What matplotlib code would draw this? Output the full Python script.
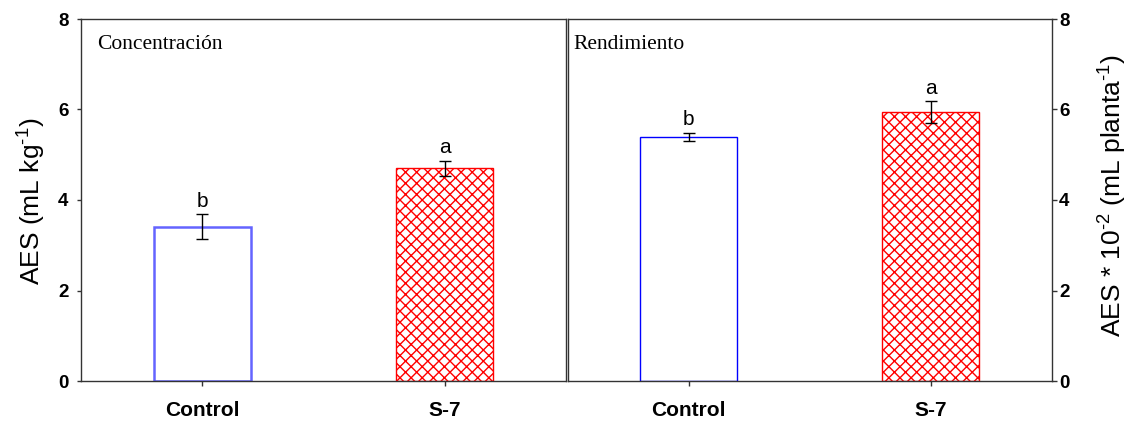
import matplotlib
matplotlib.use("Agg")
import matplotlib.pyplot as plt
import numpy as np

# Data: essential oil (AES) per treatment
categories = ["Control", "S-7"]
conc_values = [3.41, 4.70]      # mL kg-1
conc_errors = [0.27, 0.16]
conc_letters = ["b", "a"]
yield_values = [5.39, 5.94]     # mL planta-1 (x 10^-2)
yield_errors = [0.09, 0.24]
yield_letters = ["b", "a"]
yticks = [0, 2, 4, 6, 8]

plt.rcParams["font.family"] = ["Liberation Sans", "DejaVu Sans"]
plt.rcParams["mathtext.fontset"] = "custom"
plt.rcParams["mathtext.rm"] = "Liberation Sans"
plt.rcParams["mathtext.it"] = "Liberation Sans"
plt.rcParams["hatch.linewidth"] = 1.0

W, H = 1132, 423
fig = plt.figure(figsize=(W / 100, H / 100), dpi=100)

def frac_box(x0, x1, ytop, ybot):
    return [x0 / W, 1 - ybot / H, (x1 - x0) / W, (ybot - ytop) / H]

ax1 = fig.add_axes(frac_box(81, 566, 19, 381))
ax2 = fig.add_axes(frac_box(567.5, 1052, 19, 381))

x = np.arange(len(categories))
spine_col = "#333333"

def draw_panel(ax, values, errors, letters, ctrl_color, ctrl_lw, title, title_x):
    ax.bar(x[0], values[0], width=0.4, color="white", edgecolor=ctrl_color,
           linewidth=ctrl_lw, zorder=2)
    ax.bar(x[1], values[1], width=0.4, color="white", edgecolor="red",
           hatch="xxx", linewidth=1.0, zorder=2)
    ax.errorbar(x, values, yerr=errors, fmt="none", ecolor="black",
                elinewidth=1.0, capsize=4.3, capthick=1.0, zorder=3)
    for xi, v, e, lab in zip(x, values, errors, letters):
        ax.annotate(lab, (xi, v + e), xytext=(0, 5.5), textcoords="offset points",
                    ha="center", va="baseline", fontsize=15)
    ax.set_xlim(-0.5, 1.5)
    ax.set_ylim(0, 8)
    ax.set_yticks(yticks)
    ax.set_xticks(x)
    ax.set_xticklabels(categories, fontsize=15, fontweight="bold")
    ax.tick_params(axis="x", direction="out", length=3.6, width=1, pad=11,
                   colors=spine_col, labelcolor="black")
    for s in ax.spines.values():
        s.set_color(spine_col)
        s.set_linewidth(1.0)
    ax.text(title_x, 0.918, title, transform=ax.transAxes, ha="left",
            va="baseline", fontsize=15.5, family=["Liberation Serif", "DejaVu Serif"])

draw_panel(ax1, conc_values, conc_errors, conc_letters, "#6464ff", 1.8,
           "Concentración", 0.033)
draw_panel(ax2, yield_values, yield_errors, yield_letters, "blue", 1.0,
           "Rendimiento", 0.012)

ax1.tick_params(axis="y", direction="out", length=3, width=1, pad=6,
                labelsize=13.5, colors=spine_col, labelcolor="black")
for lab in ax1.get_yticklabels():
    lab.set_fontweight("bold")

ax2.yaxis.tick_right()
ax2.tick_params(axis="y", direction="out", length=3.5, width=1, pad=1.5,
                labelsize=13.5, left=False, labelleft=False, right=True,
                labelright=True, colors=spine_col, labelcolor="black")
for lab in ax2.get_yticklabels():
    lab.set_fontweight("bold")

fig.text(32 / W, 1 - 201 / H, r"AES (mL kg$^{\text{-1}}$)", rotation=90,
         ha="center", va="center", fontsize=19)
fig.text(1113 / W, 1 - 196 / H, r"AES * 10$^{\text{-2}}$ (mL planta$^{\text{-1}}$)",
         rotation=90, ha="center", va="center", fontsize=19)

fig.savefig("out.png", dpi=100)
